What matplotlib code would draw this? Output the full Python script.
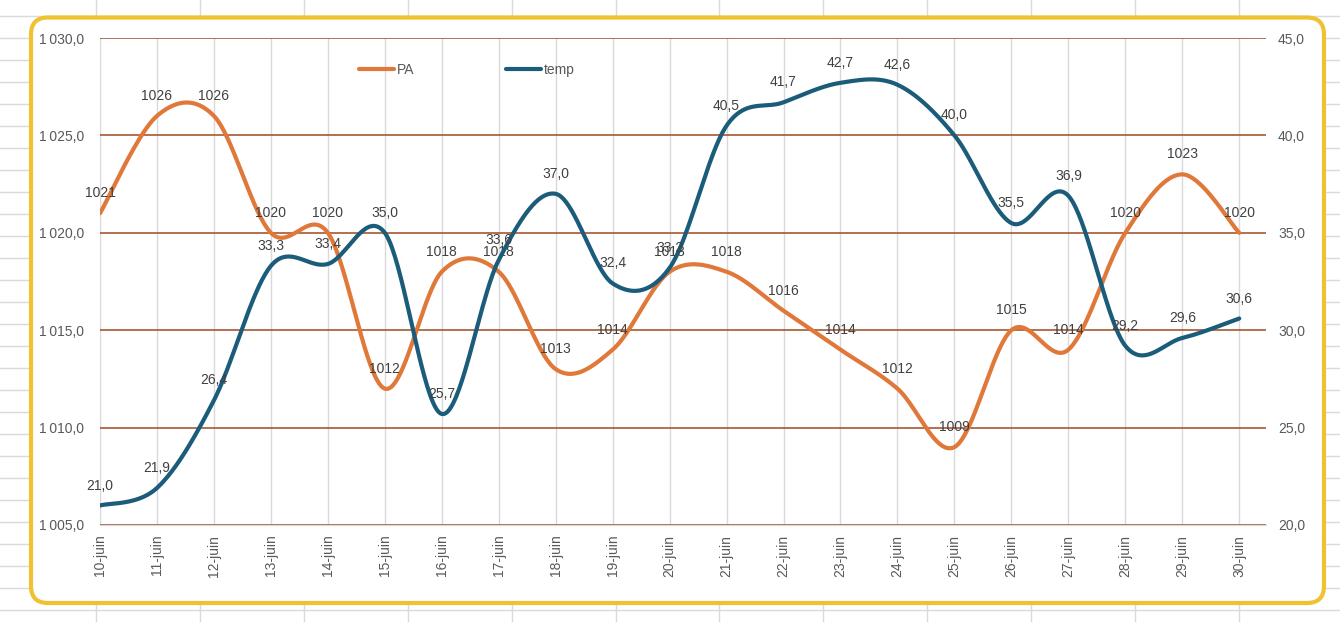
import numpy as np
import matplotlib
matplotlib.use("Agg")
import matplotlib.pyplot as plt
from matplotlib.lines import Line2D
from matplotlib.patches import FancyBboxPatch
from matplotlib.transforms import IdentityTransform
from matplotlib.ticker import FixedLocator, FuncFormatter

plt.rcParams['font.family'] = ['Liberation Sans', 'DejaVu Sans']

# ---------------- data ----------------
days = ["10-juin", "11-juin", "12-juin", "13-juin", "14-juin", "15-juin", "16-juin",
        "17-juin", "18-juin", "19-juin", "20-juin", "21-juin", "22-juin", "23-juin",
        "24-juin", "25-juin", "26-juin", "27-juin", "28-juin", "29-juin", "30-juin"]
pa = [1021, 1026, 1026, 1020, 1020, 1012, 1018, 1018, 1013, 1014, 1018,
      1018, 1016, 1014, 1012, 1009, 1015, 1014, 1020, 1023, 1020]
temp = [21.0, 21.9, 26.4, 33.3, 33.4, 35.0, 25.7, 33.6, 37.0, 32.4, 33.2,
        40.5, 41.7, 42.7, 42.6, 40.0, 35.5, 36.9, 29.2, 29.6, 30.6]
left_ticks = [1005, 1010, 1015, 1020, 1025, 1030]
right_ticks = [20, 25, 30, 35, 40, 45]

W, H = 1340, 622
fig = plt.figure(figsize=(W / 100, H / 100), dpi=100)
fig.patch.set_facecolor("white")

# spreadsheet grid in background
gridc = "#DADADA"
for k in range(0, 30):
    y = 16 + 22 * k
    if y > H:
        break
    fig.add_artist(Line2D([0, 1], [1 - y / H, 1 - y / H], transform=fig.transFigure,
                          color=gridc, lw=1, zorder=0))
for k in range(0, 13):
    x = 96 + 103.9 * k
    fig.add_artist(Line2D([x / W, x / W], [0, 1], transform=fig.transFigure,
                          color=gridc, lw=1, zorder=0))

# rounded yellow frame
frame = FancyBboxPatch((31, H - 603), 1324 - 31, 603 - 17.5,
                       boxstyle="round,pad=0,rounding_size=17",
                       transform=IdentityTransform(), facecolor="white",
                       edgecolor="#F0C232", lw=3, zorder=1)
fig.add_artist(frame)

# axes
L, R, T, B = 100, 1266, 38, 525
ax = fig.add_axes([L / W, 1 - B / H, (R - L) / W, (B - T) / H])
ax.set_zorder(5)
ax.patch.set_visible(False)
ax2 = ax.twinx()
ax2.set_zorder(6)
ax2.patch.set_visible(False)

x = np.arange(len(days))
ax.set_xlim(0, 20.47)
ax.set_ylim(left_ticks[0], left_ticks[-1])
ax2.set_ylim(right_ticks[0], right_ticks[-1])

tickc = "#595959"
ax.yaxis.set_major_locator(FixedLocator(left_ticks))
ax2.yaxis.set_major_locator(FixedLocator(right_ticks))
ax.yaxis.set_major_formatter(FuncFormatter(
    lambda v, p: f"{v:,.1f}".replace(",", "\u2009").replace(".", ",")))
ax2.yaxis.set_major_formatter(FuncFormatter(lambda v, p: f"{v:.1f}".replace(".", ",")))
ax.set_xticks(x)
ax.set_xticklabels(days, rotation=90, fontsize=10, color=tickc)
ax.tick_params(axis="x", length=0, pad=7)
ax.tick_params(axis="y", length=0, pad=11.5, labelsize=10, labelcolor=tickc)
ax2.tick_params(axis="y", length=0, pad=8.6, labelsize=10, labelcolor=tickc)

for s in ["top", "left", "right"]:
    ax.spines[s].set_visible(False)
    ax2.spines[s].set_visible(False)
ax.spines["bottom"].set_color("#D9D9D9")
ax2.spines["bottom"].set_visible(False)

# gridlines
ax.grid(axis="x", color="#D9D9D9", lw=1)
ax.grid(axis="y", color="#9E4A20", lw=1.1)
ax.set_axisbelow(True)


def smooth(a, xs, ys, n=40):
    pts = a.transData.transform(np.column_stack([xs, ys]))
    P = np.vstack([pts[0], pts, pts[-1]])
    out = []
    for i in range(1, len(P) - 2):
        p0, p1, p2, p3 = P[i - 1], P[i], P[i + 1], P[i + 2]
        c1 = p1 + (p2 - p0) / 6
        c2 = p2 - (p3 - p1) / 6
        t = np.linspace(0, 1, n)[:, None]
        b = (1 - t) ** 3 * p1 + 3 * (1 - t) ** 2 * t * c1 + 3 * (1 - t) * t ** 2 * c2 + t ** 3 * p2
        out.append(b if i == 1 else b[1:])
    return a.transData.inverted().transform(np.vstack(out))


orange = "#E07839"
blue = "#1B5C7B"
sp = smooth(ax, x, pa)
st = smooth(ax2, x, temp)
l1, = ax.plot(sp[:, 0], sp[:, 1], color=orange, lw=3, solid_capstyle="round", label="PA")
l2, = ax2.plot(st[:, 0], st[:, 1], color=blue, lw=3, solid_capstyle="round", label="temp")

labc = "#404040"
for xi, v in zip(x, pa):
    ax.annotate(f"{v:d}", (xi, v), xytext=(0, 20), textcoords="offset pixels",
                ha="center", va="center", fontsize=10, color=labc)
for xi, v in zip(x, temp):
    ax2.annotate(f"{v:.1f}".replace(".", ","), (xi, v), xytext=(0, 20),
                 textcoords="offset pixels", ha="center", va="center",
                 fontsize=10, color=labc)

leg = fig.legend([l1, l2], ["PA", "temp"], loc="center",
                 bbox_to_anchor=(467 / W, 1 - 70 / H), ncol=2, frameon=False,
                 handlelength=2.5, handletextpad=0.22, columnspacing=6.6,
                 fontsize=10, labelcolor=tickc)
leg.set_zorder(7)

fig.savefig("out.png", dpi=100, facecolor="white")
